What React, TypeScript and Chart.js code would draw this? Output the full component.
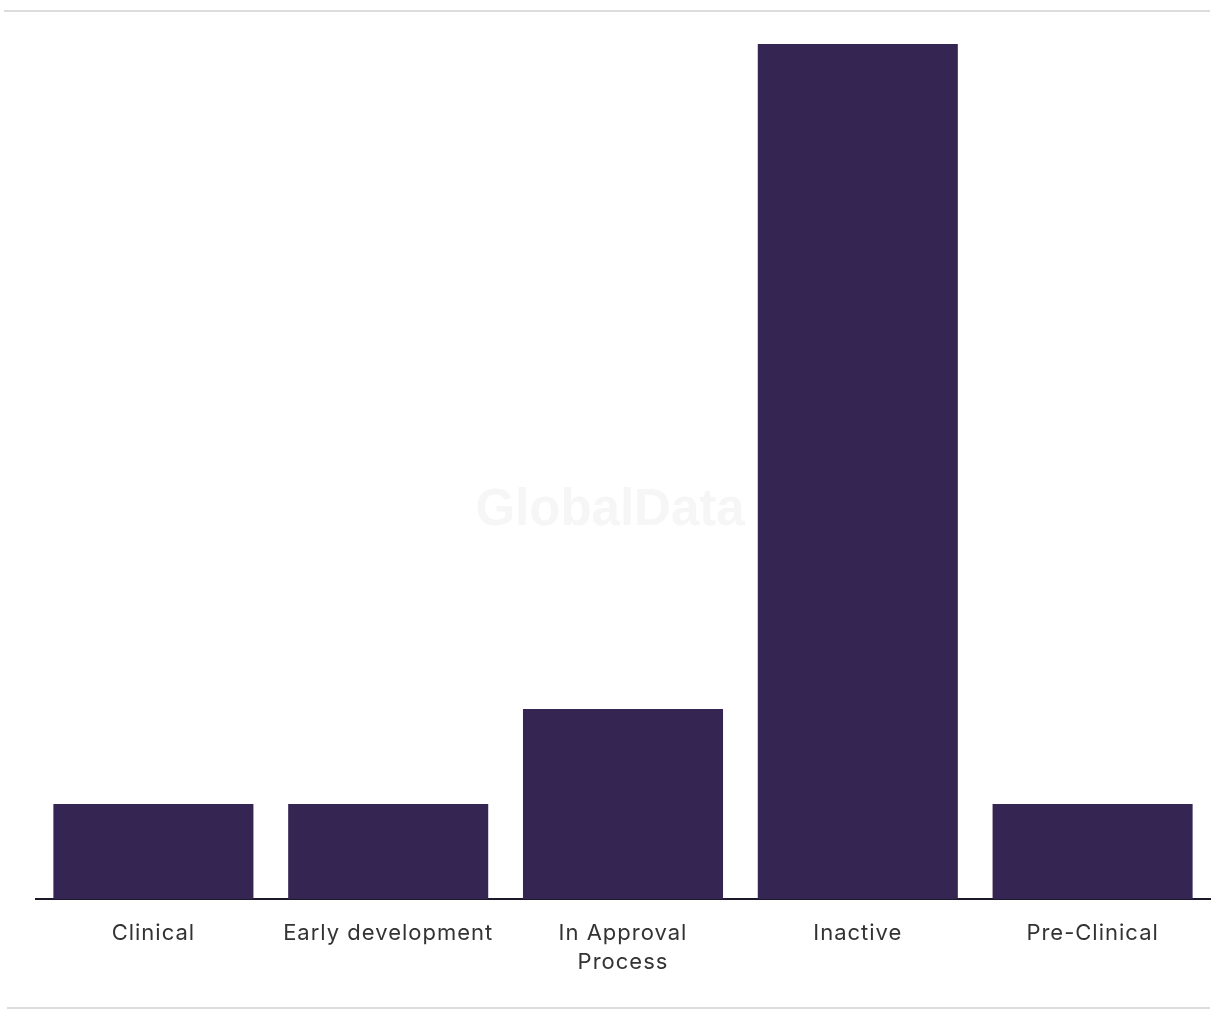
import React, { useEffect, useRef } from "react";
import { Chart, registerables } from "chart.js";

Chart.register(...registerables);

const categories: (string | string[])[] = [
  "Clinical",
  "Early development",
  ["In Approval", "Process"],
  "Inactive",
  "Pre-Clinical",
];
const values = [1, 1, 2, 9, 1];
const yMax = 9;

const decor = {
  id: "decor",
  beforeDraw(chart: any) {
    const { ctx } = chart;
    ctx.save();
    ctx.fillStyle = "#ffffff";
    ctx.fillRect(0, 0, chart.width, chart.height);
    ctx.strokeStyle = "#dcdcdc";
    ctx.lineWidth = 2;
    ctx.beginPath();
    ctx.moveTo(4, 11);
    ctx.lineTo(1210, 11);
    ctx.moveTo(7, 1008);
    ctx.lineTo(1210, 1008);
    ctx.stroke();
    ctx.fillStyle = "#f6f6f6";
    ctx.font = "bold 51px 'Liberation Sans', Arial, sans-serif";
    ctx.textAlign = "center";
    ctx.textBaseline = "middle";
    ctx.fillText("GlobalData", 610, 511);
    ctx.restore();
    (ctx as any).letterSpacing = "1px";
  },
};

export default function App() {
  const ref = useRef<HTMLCanvasElement>(null);
  useEffect(() => {
    if (!ref.current) return;
    const chart = new Chart(ref.current, {
      type: "bar",
      data: {
        labels: categories,
        datasets: [
          {
            data: values,
            backgroundColor: "#352553",
            categoryPercentage: 0.852,
            barPercentage: 1,
          },
        ],
      },
      options: {
        animation: false,
        responsive: true,
        maintainAspectRatio: false,
        layout: { padding: { left: 36, right: 10, top: 44, bottom: 0 } },
        plugins: { legend: { display: false }, tooltip: { enabled: false } },
        scales: {
          x: {
            grid: { display: false, drawTicks: false },
            border: { display: true, color: "#1c1a2a", width: 2 },
            ticks: {
              color: "#333333",
              font: { family: "Inter, Roboto, sans-serif", size: 22, lineHeight: 1.36 },
              padding: 19,
              maxRotation: 0,
              autoSkip: false,
            },
            afterFit(scale: any) {
              scale.height = 121;
            },
          },
          y: {
            display: false,
            min: 0,
            max: yMax,
          },
        },
      },
      plugins: [decor],
    });
    return () => chart.destroy();
  }, []);
  return (
    <div style={{ position: "absolute", left: 0, top: 0, width: 1220, height: 1020 }}>
      <canvas ref={ref} />
    </div>
  );
}
